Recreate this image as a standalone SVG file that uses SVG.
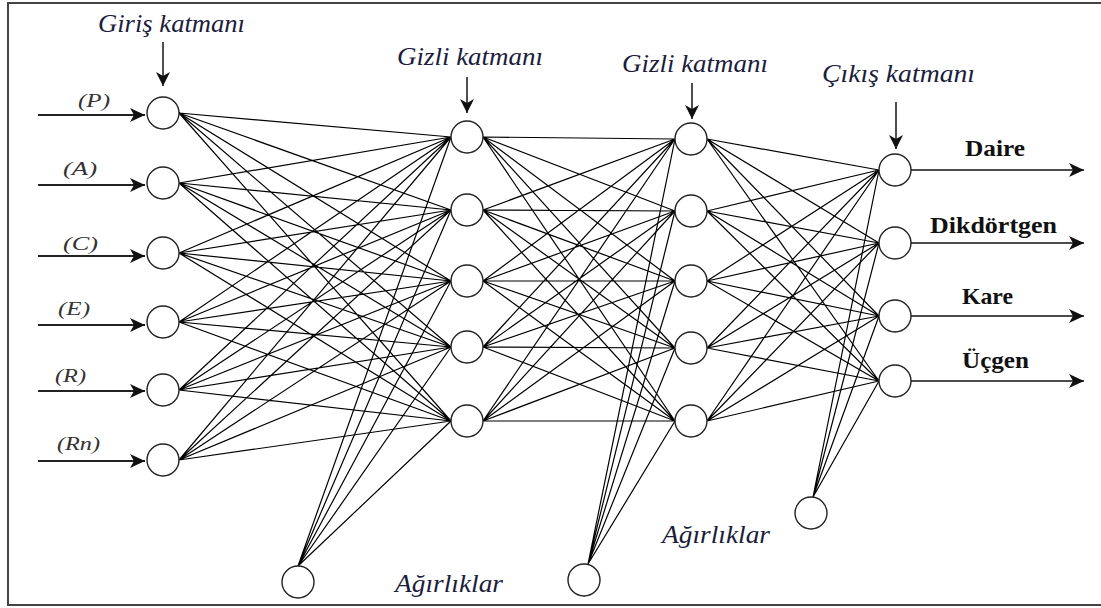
<svg xmlns="http://www.w3.org/2000/svg" width="1101" height="608" viewBox="0 0 1101 608">
<style>
.node{fill:#fff;stroke:#222;stroke-width:1.4}
.w{fill:none;stroke:#000;stroke-width:1.2}
.arr{fill:none;stroke:#222;stroke-width:2;marker-end:url(#ah)}
.oarr{fill:none;stroke:#111;stroke-width:1.6;marker-end:url(#ah)}
.varr{fill:none;stroke:#222;stroke-width:1.6;marker-end:url(#ahs)}
.lab{font-style:italic;fill:#1c1c3c;font-size:25px}
.inp{font-style:italic;fill:#333;font-size:19px}
.out{font-weight:bold;fill:#111;font-size:24px}
</style>
<defs>
<marker id="ah" markerUnits="userSpaceOnUse" markerWidth="16" markerHeight="16" refX="15" refY="7" orient="auto">
<path d="M0,0 L15,7 L0,14 L4,7 z" fill="#111"/>
</marker>
<marker id="ahs" markerUnits="userSpaceOnUse" markerWidth="16" markerHeight="16" refX="14" refY="7" orient="auto">
<path d="M0,0 L14,7 L0,14 L4,7 z" fill="#111"/>
</marker>
</defs>
<rect x="0" y="0" width="1101" height="608" fill="#fff"/>
<rect x="8" y="3" width="1100" height="602" fill="none" stroke="#444" stroke-width="2"/>

<g id="connectors">
<path class="w" d="M179 113L451 137M179 113L451 210M179 113L451 281M179 113L451 347M179 113L451 421
M179 183L451 137M179 183L451 210M179 183L451 281M179 183L451 347M179 183L451 421
M179 253L451 137M179 253L451 210M179 253L451 281M179 253L451 347M179 253L451 421
M179 322L451 137M179 322L451 210M179 322L451 281M179 322L451 347M179 322L451 421
M179 390L451 137M179 390L451 210M179 390L451 281M179 390L451 347M179 390L451 421
M179 460L451 137M179 460L451 210M179 460L451 281M179 460L451 347M179 460L451 421"/>
<path class="w" d="M298 566L451 137M298 566L451 210M298 566L451 281M298 566L451 347M298 566L451 421"/>
<path class="w" d="M483 137L675 139M483 137L675 211M483 137L675 281M483 137L675 348M483 137L675 421
M483 210L675 139M483 210L675 211M483 210L675 281M483 210L675 348M483 210L675 421
M483 281L675 139M483 281L675 211M483 281L675 281M483 281L675 348M483 281L675 421
M483 347L675 139M483 347L675 211M483 347L675 281M483 347L675 348M483 347L675 421
M483 421L675 139M483 421L675 211M483 421L675 281M483 421L675 348M483 421L675 421"/>
<path class="w" d="M588 564L675 139M588 564L675 211M588 564L675 281M588 564L675 348M588 564L675 421"/>
<path class="w" d="M707 139L879 170M707 139L879 243M707 139L879 316M707 139L879 381
M707 211L879 170M707 211L879 243M707 211L879 316M707 211L879 381
M707 281L879 170M707 281L879 243M707 281L879 316M707 281L879 381
M707 348L879 170M707 348L879 243M707 348L879 316M707 348L879 381
M707 421L879 170M707 421L879 243M707 421L879 316M707 421L879 381"/>
<path class="w" d="M813 497L879 170M813 497L879 243M813 497L879 316M813 497L879 381"/>
<line class="arr" x1="38" y1="115" x2="145" y2="115"/>
<line class="arr" x1="38" y1="185" x2="145" y2="185"/>
<line class="arr" x1="38" y1="256" x2="145" y2="256"/>
<line class="arr" x1="38" y1="325" x2="145" y2="325"/>
<line class="arr" x1="38" y1="391" x2="145" y2="391"/>
<line class="arr" x1="38" y1="461" x2="145" y2="461"/>
<line class="oarr" x1="911" y1="170" x2="1084" y2="170"/>
<line class="oarr" x1="911" y1="243" x2="1084" y2="243"/>
<line class="oarr" x1="911" y1="316" x2="1084" y2="316"/>
<line class="oarr" x1="911" y1="381" x2="1084" y2="381"/>
<line class="varr" x1="163" y1="42" x2="163" y2="86"/>
<line class="varr" x1="467" y1="77" x2="467" y2="113"/>
<line class="varr" x1="692" y1="83" x2="692" y2="119"/>
<line class="varr" x1="896" y1="102" x2="896" y2="149"/>
</g>

<g id="input-layer">
<circle class="node" cx="163" cy="113" r="16"/>
<circle class="node" cx="163" cy="183" r="16"/>
<circle class="node" cx="163" cy="253" r="16"/>
<circle class="node" cx="163" cy="322" r="16"/>
<circle class="node" cx="163" cy="390" r="16"/>
<circle class="node" cx="163" cy="460" r="16"/>
</g>
<g id="hidden-layer-1">
<circle class="node" cx="467" cy="137" r="16"/>
<circle class="node" cx="467" cy="210" r="16"/>
<circle class="node" cx="467" cy="281" r="16"/>
<circle class="node" cx="467" cy="347" r="16"/>
<circle class="node" cx="467" cy="421" r="16"/>
</g>
<g id="hidden-layer-2">
<circle class="node" cx="691" cy="139" r="16"/>
<circle class="node" cx="691" cy="211" r="16"/>
<circle class="node" cx="691" cy="281" r="16"/>
<circle class="node" cx="691" cy="348" r="16"/>
<circle class="node" cx="691" cy="421" r="16"/>
</g>
<g id="output-layer">
<circle class="node" cx="895" cy="170" r="16"/>
<circle class="node" cx="895" cy="243" r="16"/>
<circle class="node" cx="895" cy="316" r="16"/>
<circle class="node" cx="895" cy="381" r="16"/>
</g>
<g id="bias-1"><circle class="node" cx="298" cy="582" r="16"/></g>
<g id="bias-2"><circle class="node" cx="584" cy="580" r="16"/></g>
<g id="bias-3"><circle class="node" cx="811" cy="513" r="16"/></g>

<g id="labels" font-family="Liberation Serif, DejaVu Serif, Times New Roman, serif">
<text class="lab" x="98" y="32" textLength="147" lengthAdjust="spacingAndGlyphs">Giriş katmanı</text>
<text class="lab" x="397" y="65" textLength="146" lengthAdjust="spacingAndGlyphs">Gizli katmanı</text>
<text class="lab" x="622" y="72" textLength="146" lengthAdjust="spacingAndGlyphs">Gizli katmanı</text>
<text class="lab" x="822" y="82" textLength="153" lengthAdjust="spacingAndGlyphs">Çıkış katmanı</text>
<text class="lab" x="395" y="592" textLength="108" lengthAdjust="spacingAndGlyphs">Ağırlıklar</text>
<text class="lab" x="662" y="543" textLength="108" lengthAdjust="spacingAndGlyphs">Ağırlıklar</text>
<text class="inp" x="78" y="107" textLength="32" lengthAdjust="spacingAndGlyphs">(P)</text>
<text class="inp" x="63" y="175" textLength="34" lengthAdjust="spacingAndGlyphs">(A)</text>
<text class="inp" x="63" y="250" textLength="35" lengthAdjust="spacingAndGlyphs">(C)</text>
<text class="inp" x="58" y="315" textLength="32" lengthAdjust="spacingAndGlyphs">(E)</text>
<text class="inp" x="55" y="382" textLength="31" lengthAdjust="spacingAndGlyphs">(R)</text>
<text class="inp" x="57" y="450" textLength="43" lengthAdjust="spacingAndGlyphs">(Rn)</text>
<text class="out" x="965" y="156" textLength="60" lengthAdjust="spacingAndGlyphs">Daire</text>
<text class="out" x="930" y="233" textLength="127" lengthAdjust="spacingAndGlyphs">Dikdörtgen</text>
<text class="out" x="962" y="304" textLength="51" lengthAdjust="spacingAndGlyphs">Kare</text>
<text class="out" x="962" y="368" textLength="67" lengthAdjust="spacingAndGlyphs">Üçgen</text>
</g>
</svg>
